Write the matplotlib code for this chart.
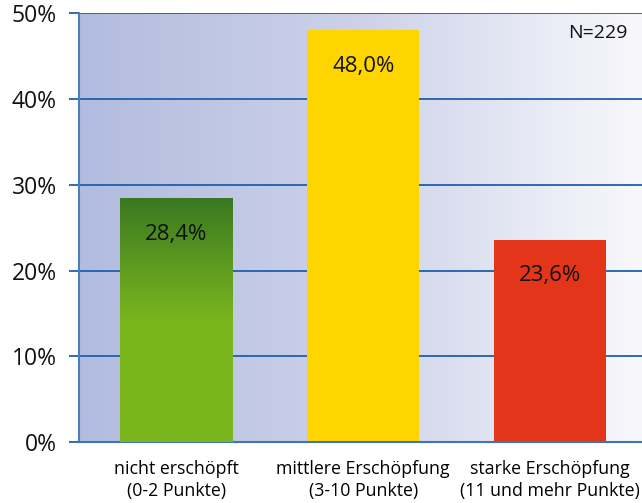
import numpy as np
import matplotlib
matplotlib.use("Agg")
import matplotlib.pyplot as plt
from matplotlib.colors import LinearSegmentedColormap
from matplotlib import font_manager

categories = ["nicht erschöpft\n(0-2 Punkte)",
              "mittlere Erschöpfung\n(3-10 Punkte)",
              "starke Erschöpfung\n(11 und mehr Punkte)"]
values = [28.4, 48.0, 23.6]
value_labels = ["28,4%", "48,0%", "23,6%"]
yticks = [0, 10, 20, 30, 40, 50]
ytick_labels = ["0%", "10%", "20%", "30%", "40%", "50%"]
note = "N=229"

avail = {f.name for f in font_manager.fontManager.ttflist}
family = "Liberation Sans Narrow" if "Liberation Sans Narrow" in avail else "Open Sans"
plt.rcParams["font.family"] = [family, "DejaVu Sans"]

fig = plt.figure(figsize=(6.42, 5.03), dpi=100)
ax = fig.add_axes([0.123, 0.121, 0.877, 0.853])
ax.set_xlim(-0.52, 2.49)
ax.set_ylim(0, 50)

# horizontal background gradient
bg = LinearSegmentedColormap.from_list("bg", ["#b2bcdf", "#cdd2e9", "#f8f8fc"])
ax.imshow(np.linspace(0, 1, 256)[None, :], cmap=bg, aspect="auto",
          extent=[0, 1, 0, 1], transform=ax.transAxes, zorder=0)

for y in yticks[1:]:
    ax.axhline(y, color="#1f5fad", lw=1.3, zorder=1)

colors = ["#7ab51d", "#ffd500", "#e33519"]
bars = ax.bar(range(3), values, width=0.6, color=colors, zorder=2)

# green bar: vertical gradient, dark at the top
green = LinearSegmentedColormap.from_list("gr", ["#7ab51d", "#7ab51d", "#3a7922"])
b0 = bars[0]
x0 = b0.get_x()
ax.imshow(np.linspace(0, 1, 256)[:, None], cmap=green, aspect="auto", origin="lower",
          extent=[x0, x0 + b0.get_width(), 0, b0.get_height()], zorder=3)

for i, (v, lab) in enumerate(zip(values, value_labels)):
    ax.text(i, v - 4.2, lab, ha="center", va="center", fontsize=16, color="#111111", zorder=4)

ax.text(0.975, 0.975, note, transform=ax.transAxes, ha="right", va="top",
        fontsize=14, color="#111111", zorder=4)

ax.set_xticks(range(3))
ax.set_xticklabels(categories, fontsize=12.8, linespacing=1.3)
ax.tick_params(axis="x", length=0, pad=13)
ax.set_yticks(yticks)
ax.set_yticklabels(ytick_labels, fontsize=16.5)
ax.tick_params(axis="y", length=7, width=1.3, color="#1f5fad", pad=9)
for lab in ax.get_yticklabels():
    lab.set_color("#111111")

for s in ["top", "right"]:
    ax.spines[s].set_visible(False)
ax.spines["left"].set_color("#4a7ec0")
ax.spines["left"].set_linewidth(1.5)
ax.spines["bottom"].set_color("#3f74bb")
ax.spines["bottom"].set_linewidth(1.5)
ax.set_zorder(1)

fig.savefig("out.png", dpi=100)
